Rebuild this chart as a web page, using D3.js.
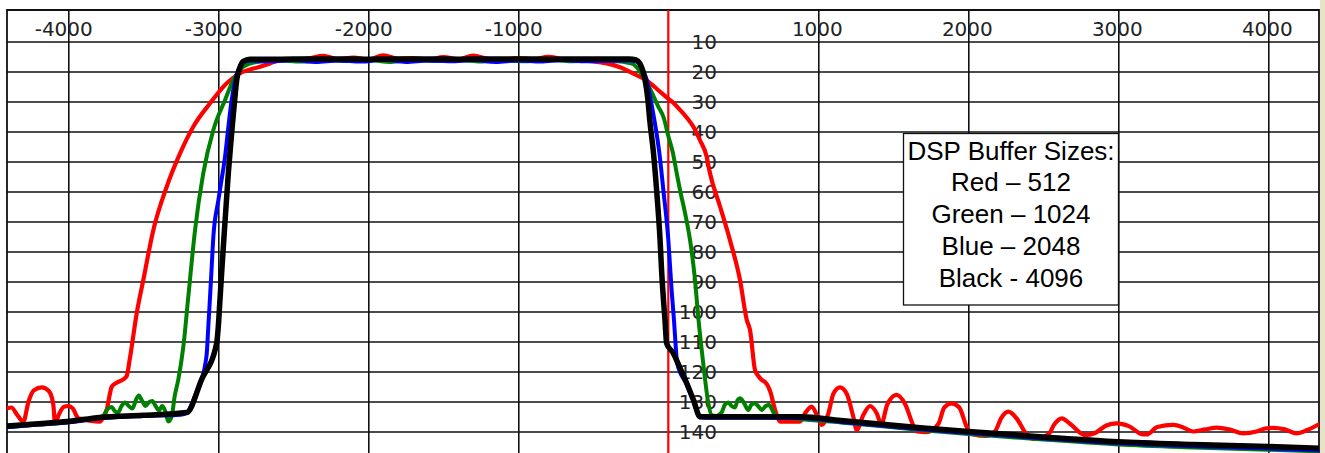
<!DOCTYPE html>
<html><head><meta charset="utf-8">
<script src="https://cdn.jsdelivr.net/npm/d3@7"></script>
<style>body{margin:0;background:#fff}svg{display:block}</style>
</head><body>
<svg id="c" width="1325" height="453"></svg>
<script>
// ---------- data ----------
const xTicks = [-4000, -3000, -2000, -1000, 1000, 2000, 3000, 4000];
const yTicks = [10, 20, 30, 40, 50, 60, 70, 80, 90, 100, 110, 120, 130, 140];

const legendLines = ["DSP Buffer Sizes:", "Red \u2013 512", "Green \u2013 1024", "Blue \u2013 2048", "Black - 4096"];

// [frequency Hz, attenuation dB]
const red512 = [
  [-4411,132.3],[-4380,132],[-4340,134.5],[-4300,136.7],[-4265,130],[-4230,126.3],[-4177,125.3],[-4130,126.5],
  [-4100,131],[-4089,137.2],[-4060,134],[-4030,131.8],[-4000,131.5],[-3970,132.3],[-3945,134.8],[-3933,135.6],
  [-3855,136.4],[-3789,136.7],[-3765,135],[-3744,132.8],[-3725,128],[-3711,125.1],[-3680,123.8],[-3655,123.2],
  [-3630,122.5],[-3611,121.5],[-3589,115.5],[-3544,100.6],[-3500,89.5],[-3433,72.8],[-3344,58.4],[-3255,47.3],
  [-3167,38.4],[-3055,30.6],[-2944,23.9],[-2855,20.6],[-2722,18.4],[-2655,17.3],
  [-2600,16.4],[-2500,16.0],[-2400,15.6],[-2300,14.8],[-2200,15.9],[-2100,15.4],[-2000,16.0],[-1900,14.6],
  [-1800,15.8],[-1700,15.5],[-1600,16.1],[-1500,15.2],[-1400,15.9],[-1300,14.7],[-1200,15.8],[-1100,16.0],
  [-1000,15.5],[-900,15.9],[-800,15.1],[-700,15.9],[-600,16.2],[-500,16.6],
  [-411,17.3],[-322,18.6],[-233,20.7],[-144,23],[-60,26.5],[-11,28.6],[35,30.5],[78,32.8],[125,35.5],
  [167,38.4],[212,43],[256,48.4],[278,53.9],[345,65],[411,76.2],[478,89.5],[523,102.8],[545,106.2],
  [578,119.5],[600,121.5],[623,122.8],[645,123.5],[667,125.1],[685,127.5],[700,130.6],[723,134.5],
  [745,136.7],[878,136.7],[911,134],[956,131.7],[990,134.5],[1022,137.8],
  [1067,134],[1100,127.5],[1145,125.3],[1190,127.5],[1233,135],[1256,139.5],
  [1300,134.5],[1345,131.5],[1390,134],[1420,137.5],
  [1460,131],[1522,127.8],[1580,131],[1633,138],[1656,140],
  [1720,140.2],[1800,137.5],[1840,132],[1889,130.6],[1940,132],[1990,138.5],[2033,141],
  [2120,141.5],[2178,140],[2220,135.5],[2267,133.4],[2320,135.5],[2389,141],[2433,142.5],
  [2533,141],[2575,137.5],[2623,135.6],[2680,137.5],[2778,141.2],
  [2845,140.5],[2920,138],[2989,137.3],[3070,138.2],[3167,141],[3189,141],
  [3260,138.5],[3367,137.8],[3440,138.8],[3500,140],
  [3580,139.3],[3656,138.7],[3740,139.3],[3833,140.6],
  [3922,140],[3980,139],[4033,138.8],[4110,139.3],[4189,140.6],[4260,139.5],[4340,137.5]
];

const green1024 = [
  [-4410,138.6],[-4200,137.7],[-4010,137],[-3850,135.8],[-3767,134.8],[-3740,132.5],[-3711,131.8],[-3690,133.2],
  [-3667,133.6],[-3645,131.5],[-3622,130.3],[-3597,131.5],[-3572,132.3],[-3550,129.6],[-3530,128],[-3508,129.8],
  [-3485,131.5],[-3462,130.2],[-3440,129.8],[-3418,131.5],[-3395,133],[-3375,131.5],[-3355,133],[-3333,136.7],
  [-3311,135],[-3290,128],[-3267,122.8],[-3233,111.7],[-3200,95.1],[-3155,72.8],[-3100,53.9],[-3033,39.5],
  [-2955,29.5],[-2900,22.8],[-2833,18.4],[-2744,16.8],
  [-2600,16.3],[-2450,16.7],[-2300,16.1],[-2150,16.5],[-2000,16.2],[-1850,16.8],[-1700,16.1],[-1550,16.5],
  [-1400,16.2],[-1250,16.7],[-1100,16.2],[-950,16.6],[-800,16.1],[-650,16.6],[-500,16.3],[-400,16.4],
  [-300,16.8],[-236,17.5],[-167,21.7],[-120,26],[-67,31.7],[-30,35.5],[0,41.5],[30,47],[56,53.9],[78,59.5],
  [111,67],[145,76.2],[178,89.5],[200,102],[233,117.3],[267,130.6],[289,134.5],[320,134.8],[356,133.6],
  [378,131],[400,130.3],[422,131.5],[445,132],[462,129.5],[478,128.9],[505,130.5],[533,132.8],[555,131],
  [578,130.6],[600,131.6],[623,132.8],[650,131.5],[672,131.2],[700,133.5],[723,135],[878,135.8],
  [1150,137],[1411,138.2],[1700,139.6],[2000,140.8],[2500,142.7],[3000,144.3],[3500,145.3],[4000,146.1],[4340,146.6]
];

const blue2048 = [
  [-4410,138.6],[-4200,137.7],[-4010,137],[-3790,135.6],[-3500,134.8],[-3250,134.4],[-3211,133.8],[-3150,127.5],
  [-3111,122.8],[-3085,117],[-3077,114],[-3066,104.5],[-3055,95.1],[-3044,85],[-3033,75.1],[-3000,63],
  [-2978,56],[-2955,48.4],[-2933,38.5],[-2911,29.5],[-2890,23.5],[-2867,19.5],[-2845,17.5],[-2800,16.4],
  [-2650,16.6],[-2500,16.2],[-2350,16.8],[-2200,16.3],[-2050,16.7],[-1900,16.1],[-1750,16.8],[-1600,16.3],
  [-1450,16.6],[-1300,16.2],[-1150,16.8],[-1000,16.3],[-850,16.7],[-700,16.2],[-550,16.6],[-400,16.4],[-260,16.3],
  [-215,16.6],[-190,17.6],[-165,20],[-144,22.8],[-115,30],[-89,37.3],[-60,47],[-33,59.5],[0,76],[22,92.8],
  [38,103],[50,112],[58,117],[123,124.4],[168,130],[211,135.3],[300,135.4],[600,135.4],[878,135.5],
  [1150,136.8],[1411,138],[1700,139.3],[2000,140.5],[2500,142.3],[3000,143.9],[3500,144.9],[4000,145.7],[4340,146.3]
];

const black4096 = [
  [-4410,138.2],[-4200,137.4],[-4010,136.7],[-3790,135.3],[-3500,134.6],[-3211,133.7],[-3111,122.6],
  [-3011,110.6],[-3000,105],[-2989,96.2],[-2975,85],[-2962,75.1],[-2933,53.8],[-2911,40.5],[-2890,29],
  [-2877,22.8],[-2855,18.6],[-2833,16.6],[-2790,15.9],
  [-2600,15.9],[-2400,15.8],[-2200,15.8],[-2000,15.9],[-1800,15.8],[-1600,15.8],[-1400,15.9],[-1200,15.8],
  [-1000,15.8],[-800,15.9],[-600,15.8],[-400,15.8],[-260,15.8],
  [-215,16.1],[-190,17.3],[-170,19.8],[-155,22.8],[-138,28.5],[-122,37],[-100,46.5],[-78,59.5],[-55,76],
  [-44,87],[-22,103],[-11,110.6],[33,113.9],[78,118.8],[123,123.9],[168,129.5],[211,135],[300,135.1],
  [600,135.1],[878,135.1],[1150,136.3],[1411,137.5],[1700,138.8],[2000,140],[2500,141.8],[3000,143.4],
  [3500,144.3],[4000,145],[4340,145.6]
];

const seriesList = [
  {name: "512", data: red512, color: "#ff0000", width: 4.2},
  {name: "1024", data: green1024, color: "#008000", width: 4},
  {name: "2048", data: blue2048, color: "#0000ff", width: 4},
  {name: "4096", data: black4096, color: "#000000", width: 5.5}
];

// ---------- layout ----------
const L = 7, R = 1319, T = 10, B = 453;
const svg = d3.select("#c");
const x = d3.scaleLinear().domain([-4000, 4000]).range([68.3, 1268.3]);
const y = d3.scaleLinear().domain([10, 140]).range([41.5, 431.5]);

svg.append("rect").attr("x", 1320).attr("y", 0).attr("width", 5).attr("height", 453).attr("fill", "#e8e2c8");

// vertical grid + x labels
const gx = svg.append("g").attr("transform", `translate(0,${T})`)
  .call(d3.axisBottom(x).tickValues(xTicks).tickSize(B - T).tickSizeOuter(0).tickFormat(d => String(d)));
gx.select(".domain").remove();
gx.selectAll(".tick line").attr("stroke", "#111").attr("stroke-width", 1.6);
gx.selectAll(".tick text").attr("x", 24).attr("y", 26).attr("dy", 0).attr("text-anchor", "end")
  .attr("font-family", "DejaVu Sans").attr("font-size", 20).attr("fill", "#222");

// horizontal grid + y labels
const gy = svg.append("g").attr("transform", `translate(${L},0)`)
  .call(d3.axisRight(y).tickValues(yTicks).tickSize(R - L).tickSizeOuter(0).tickFormat(d => String(d)));
gy.select(".domain").remove();
gy.selectAll(".tick line").attr("stroke", "#111").attr("stroke-width", 1.6);
gy.selectAll(".tick text").attr("x", 717 - L).attr("dy", 6.5).attr("text-anchor", "end")
  .attr("font-family", "DejaVu Sans").attr("font-size", 20).attr("fill", "#222");

// frame
svg.append("path").attr("d", `M${L},${B}V${T}H${R}V${B}`).attr("fill", "none").attr("stroke", "#111").attr("stroke-width", 1.8);

// zero marker
svg.append("line").attr("x1", x(0)).attr("x2", x(0)).attr("y1", T).attr("y2", B)
  .attr("stroke", "#ff0000").attr("stroke-width", 2.2);

// curves
svg.append("clipPath").attr("id", "clip").append("rect").attr("x", L).attr("y", T).attr("width", R - L).attr("height", B - T);
const line = d3.line().x(d => x(d[0])).y(d => y(d[1])).curve(d3.curveMonotoneX);
svg.append("g").attr("clip-path", "url(#clip)").selectAll("path").data(seriesList).join("path")
  .attr("d", d => line(d.data)).attr("fill", "none").attr("stroke", d => d.color)
  .attr("stroke-width", d => d.width).attr("stroke-linejoin", "round").attr("stroke-linecap", "round");

// legend box
const lg = svg.append("g");
lg.append("rect").attr("x", 903.5).attr("y", 133.5).attr("width", 215).attr("height", 171.5)
  .attr("fill", "#fff").attr("stroke", "#111").attr("stroke-width", 1.3);
const baselines = [160, 191, 223, 255, 287];
lg.selectAll("text").data(legendLines).join("text")
  .attr("x", 1011).attr("y", (d, i) => baselines[i]).attr("text-anchor", "middle")
  .attr("font-family", "Liberation Sans, Arial, sans-serif").attr("font-size", 26).attr("fill", "#000")
  .text(d => d);
</script>
</body></html>
